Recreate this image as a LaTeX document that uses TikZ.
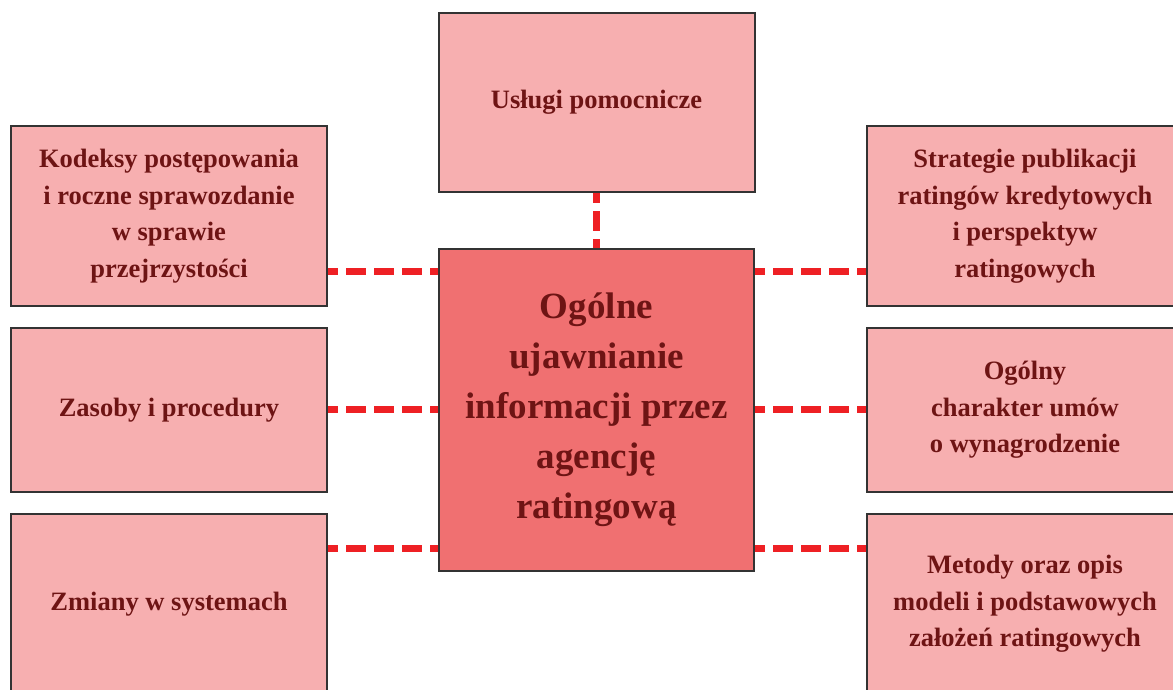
\documentclass[tikz,border=0pt]{standalone}
\usepackage{fontspec}
\setmainfont{Liberation Serif}
\definecolor{boxfill}{HTML}{F7AFB0}
\definecolor{mainfill}{HTML}{F07071}
\definecolor{txt}{HTML}{6E1414}
\definecolor{dash}{HTML}{EE2024}
\definecolor{edge}{HTML}{333333}
\tikzset{
  sidebox/.style={draw=edge, line width=2pt, fill=boxfill, text=txt, font=\bfseries\fontsize{26.5}{36.5}\selectfont,
    align=center, inner sep=0pt, minimum width=316pt, minimum height=#1},
  mainbox/.style={draw=edge, line width=2pt, fill=mainfill, text=txt, font=\bfseries\fontsize{37}{50}\selectfont,
    align=center, inner sep=0pt, minimum width=315pt, minimum height=322pt},
  conn/.style={draw=dash, line width=7pt, dash pattern=on 20pt off 8pt, dash phase=10pt}
}
\begin{document}
\begin{tikzpicture}[x=1pt,y=-1pt]
\useasboundingbox (0,0) rectangle (1173,690);
\clip (0,0) rectangle (1173,690);
\node[mainbox] (c) at (596.5,410) {Ogólne\\ujawnianie\\informacji przez\\agencję\\ratingową};
\node[sidebox=179pt] (top) at (596.5,102.5) {Usługi pomocnicze};
\node[sidebox=180pt] (l1) at (169,216) {Kodeksy postępowania\\i roczne sprawozdanie\\w sprawie\\przejrzystości};
\node[sidebox=164pt] (l2) at (169,410) {Zasoby i procedury};
\node[sidebox=180pt] (l3) at (169,604) {Zmiany w systemach};
\node[sidebox=180pt] (r1) at (1025,216) {Strategie publikacji\\ratingów kredytowych\\i perspektyw\\ratingowych};
\node[sidebox=164pt] (r2) at (1025,410) {Ogólny\\charakter umów\\o wynagrodzenie};
\node[sidebox=180pt] (r3) at (1025,604) {Metody oraz opis\\modeli i podstawowych\\założeń ratingowych};
\coordinate (y1) at (0,271);
\coordinate (y2) at (0,409);
\coordinate (y3) at (0,548);
\draw[conn] (top.south) -- (c.north);
\draw[conn] (l1.east |- y1) -- (c.west |- y1);
\draw[conn] (l2.east |- y2) -- (c.west |- y2);
\draw[conn] (l3.east |- y3) -- (c.west |- y3);
\draw[conn] (c.east |- y1) -- (r1.west |- y1);
\draw[conn] (c.east |- y2) -- (r2.west |- y2);
\draw[conn] (c.east |- y3) -- (r3.west |- y3);
\end{tikzpicture}
\end{document}
